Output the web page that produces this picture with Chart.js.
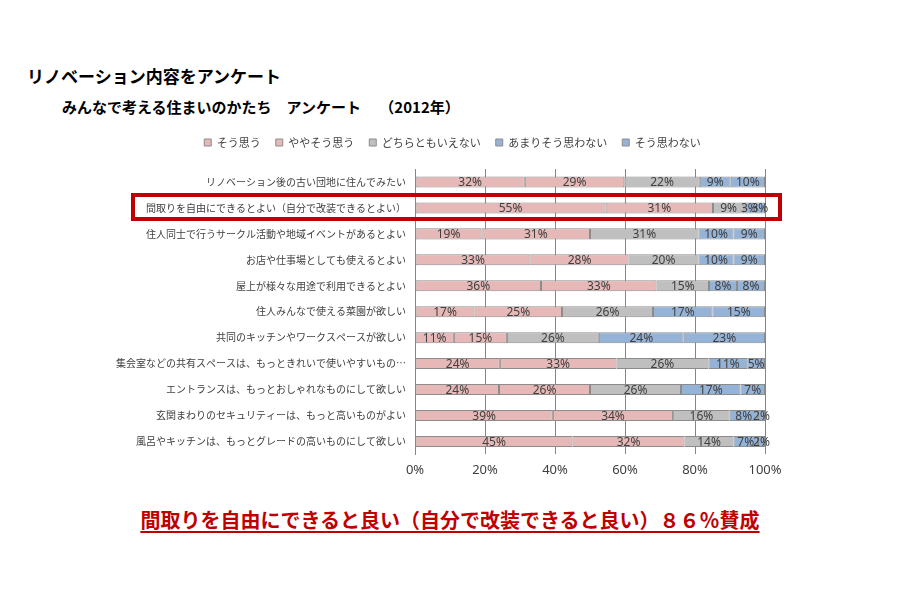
<!DOCTYPE html>
<html lang="ja">
<head>
<meta charset="utf-8">
<title>リノベーション内容をアンケート</title>
<script src="https://cdn.jsdelivr.net/npm/chart.js@4.4.1/dist/chart.umd.min.js"></script>
<style>
  body { margin: 0; background: #fff; font-family: "Noto Sans CJK JP", "Noto Sans", sans-serif; }
  #page { position: relative; width: 900px; height: 600px; overflow: hidden; }
  .title { position: absolute; left: 27px; top: 63px; font-size: 17px; font-weight: bold; color: #000; }
  .subtitle { position: absolute; left: 62px; top: 96px; font-size: 15px; font-weight: bold; color: #000; white-space: pre; }
  #chart-wrap { position: absolute; left: 0; top: 114px; width: 900px; height: 384px; }
  .highlight { position: absolute; left: 131px; top: 193px; width: 643px; height: 20px; border: 4px solid #c00000; }
  .conclusion { position: absolute; left: 0; width: 900px; top: 505px; text-align: center; font-size: 20px; font-weight: bold; color: #c00000; }
  .conclusion span { text-decoration: underline; text-underline-offset: 3px; }
</style>
</head>
<body>
<div id="page">
  <div class="title">リノベーション内容をアンケート</div>
  <div class="subtitle">みんなで考える住まいのかたち　アンケート　 （2012年）</div>
  <div id="chart-wrap"><canvas id="surveyChart"></canvas></div>
  <div class="highlight"></div>
  <div class="conclusion"><span>間取りを自由にできると良い（自分で改装できると良い）８６％賛成</span></div>
</div>
<script>
// 設問
const questions = [
    "リノベーション後の古い団地に住んでみたい",
    "間取りを自由にできるとよい（自分で改装できるとよい）",
    "住人同士で行うサークル活動や地域イベントがあるとよい",
    "お店や仕事場としても使えるとよい",
    "屋上が様々な用途で利用できるとよい",
    "住人みんなで使える菜園が欲しい",
    "共同のキッチンやワークスペースが欲しい",
    "集会室などの共有スペースは、もっときれいで使いやすいもの…",
    "エントランスは、もっとおしゃれなものにして欲しい",
    "玄関まわりのセキュリティーは、もっと高いものがよい",
    "風呂やキッチンは、もっとグレードの高いものにして欲しい"
];

// 回答（%）
const answerNames = ["そう思う", "ややそう思う", "どちらともいえない", "あまりそう思わない", "そう思わない"];
const soOmou      = [32, 55, 19, 33, 36, 17, 11, 24, 24, 39, 45];
const yayaSoOmou  = [29, 31, 31, 28, 33, 25, 15, 33, 26, 34, 32];
const dochiramo   = [22,  9, 31, 20, 15, 26, 26, 26, 26, 16, 14];
const amariOmowan = [ 9,  3, 10, 10,  8, 17, 24, 11, 17,  8,  7];
const soOmowanai  = [10,  3,  9,  9,  8, 15, 23,  5,  7,  2,  2];
const xTicks = [0, 20, 40, 60, 80, 100];

const answerColors = ["#e6b9b8", "#e6b9b8", "#bfbfbf", "#95b3d7", "#95b3d7"];
const series = [soOmou, yayaSoOmou, dochiramo, amariOmowan, soOmowanai];

// 100%積み上げ用に行ごとの合計で割る
const rowTotals = questions.map((q, i) => series.reduce((s, arr) => s + arr[i], 0));

const datasets = series.map((arr, k) => ({
    label: answerNames[k],
    raw: arr,
    data: arr.map((v, i) => v / rowTotals[i] * 100),
    backgroundColor: answerColors[k],
    borderColor: "#8c8c8c",
    borderWidth: 1,
    borderSkipped: false,
    barPercentage: 0.85,
    categoryPercentage: 0.5
}));

// 値ラベル
const valueLabels = {
    id: "valueLabels",
    afterDatasetsDraw(chart) {
        const ctx = chart.ctx;
        ctx.save();
        ctx.font = "12px 'Noto Sans', sans-serif";
        ctx.fillStyle = "#404040";
        ctx.textAlign = "center";
        ctx.textBaseline = "middle";
        chart.data.datasets.forEach((ds, k) => {
            chart.getDatasetMeta(k).data.forEach((bar, i) => {
                const cx = (bar.x + bar.base) / 2;
                ctx.fillText(ds.raw[i] + "%", cx, bar.y + 1);
            });
        });
        ctx.restore();
    }
};

// 凡例の位置調整（グラフとの間隔と横位置）
const legendPlace = {
    id: "legendPlace",
    afterInit(chart) {
        const fit = chart.legend.fit;
        chart.legend.fit = function () {
            fit.call(this);
            this.height += 11;
        };
    },
    afterLayout(chart) {
        chart.legend.left += 70;
        chart.legend.right += 70;
    }
};

new Chart(document.getElementById("surveyChart"), {
    type: "bar",
    data: { labels: questions, datasets: datasets },
    options: {
        indexAxis: "y",
        responsive: true,
        maintainAspectRatio: false,
        animation: false,
        layout: { padding: { top: 8, right: 135, bottom: 12, left: 0 } },
        plugins: {
            legend: {
                position: "top",
                labels: {
                    boxWidth: 7,
                    boxHeight: 7,
                    padding: 15,
                    color: "#404040",
                    font: { size: 11, family: "'Noto Sans CJK JP', sans-serif" }
                }
            },
            tooltip: { enabled: false }
        },
        scales: {
            x: {
                stacked: true,
                min: 0,
                max: 100,
                afterBuildTicks: s => { s.ticks = xTicks.map(v => ({ value: v })); },
                ticks: {
                    callback: v => v + "%",
                    color: "#404040",
                    padding: 8,
                    font: { size: 13, family: "'Noto Sans', sans-serif" }
                },
                grid: { color: "#868686", drawTicks: false },
                border: { display: false }
            },
            y: {
                stacked: true,
                afterFit: s => { s.width = 415; },
                ticks: {
                    color: "#404040",
                    padding: 9,
                    font: { size: 10, family: "'Noto Sans CJK JP', sans-serif" }
                },
                grid: { display: false, drawTicks: false },
                border: { display: true, color: "#868686" }
            }
        }
    },
    plugins: [valueLabels, legendPlace]
});
</script>
</body>
</html>
